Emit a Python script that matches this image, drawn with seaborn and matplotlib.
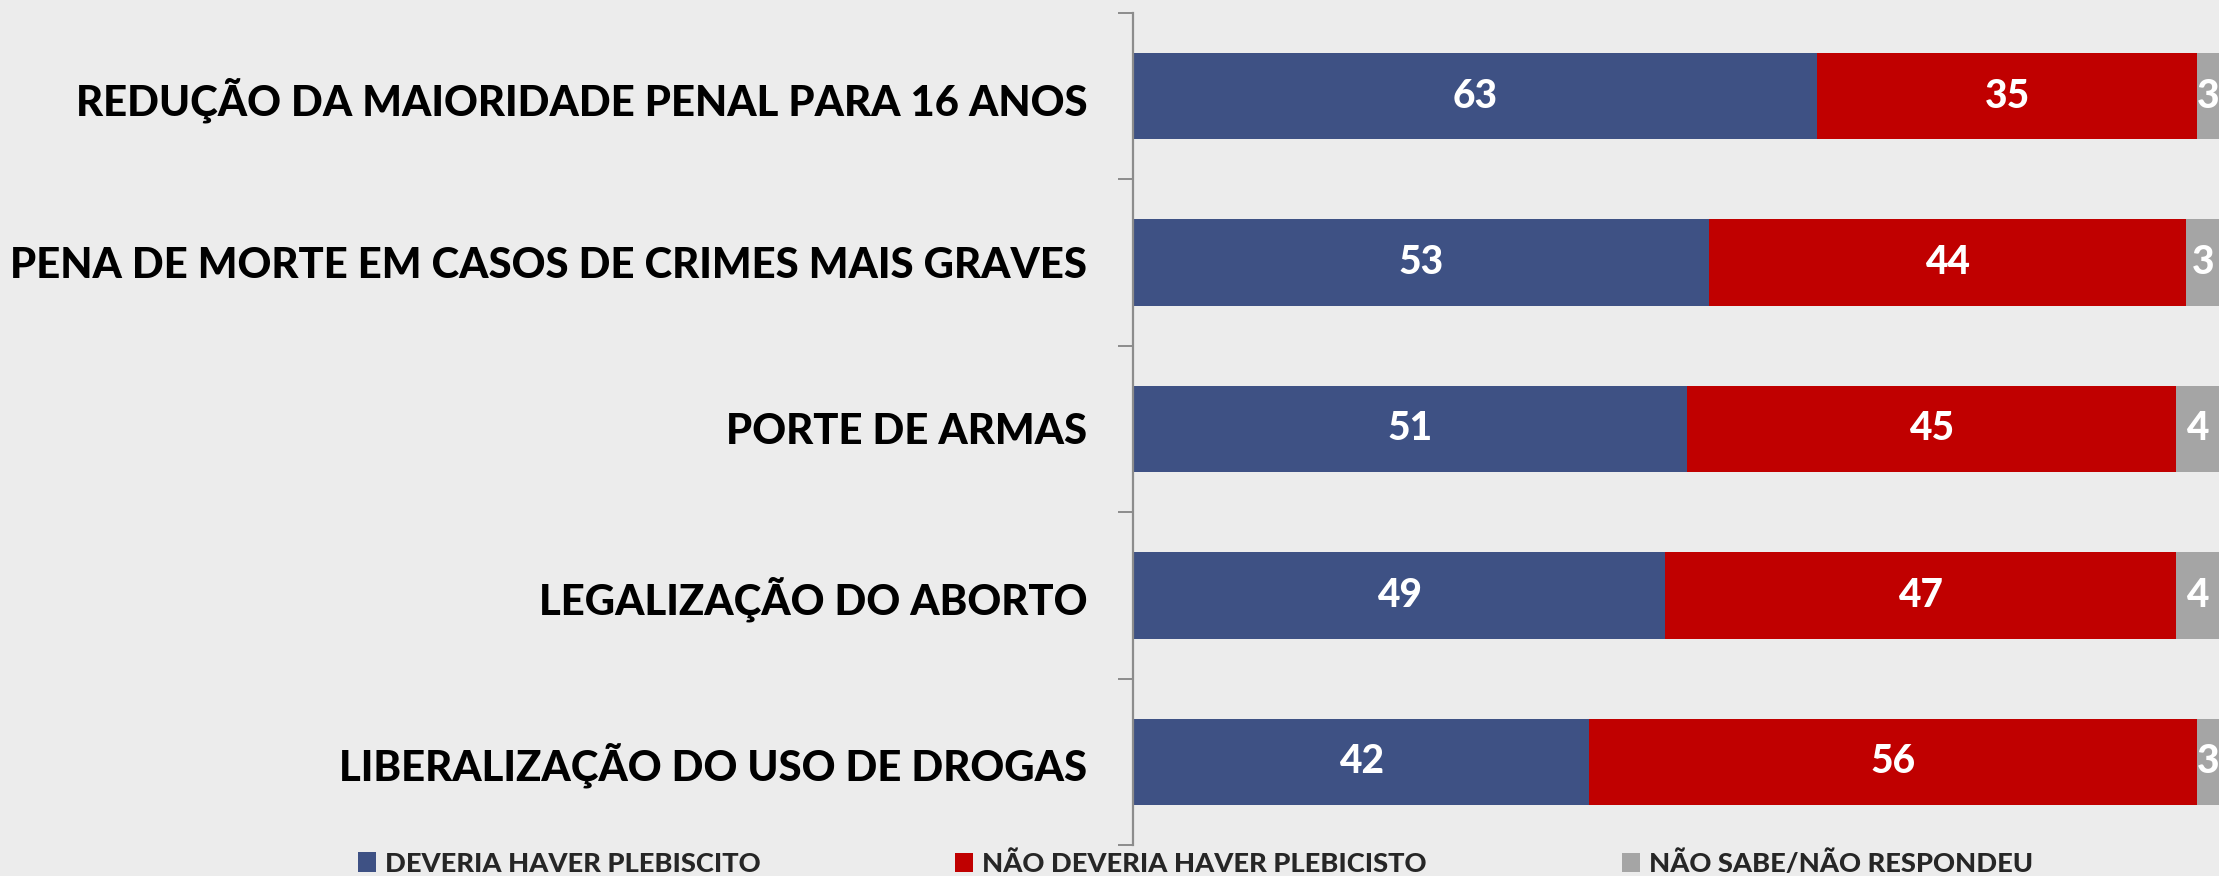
import matplotlib
matplotlib.use("Agg")
import matplotlib.pyplot as plt
from matplotlib.patches import Patch
from matplotlib.ticker import FixedLocator
from matplotlib import font_manager
import seaborn as sns
import pandas as pd
import numpy as np

# Survey results (percent)
categories = [
    "REDUÇÃO DA MAIORIDADE PENAL PARA 16 ANOS",
    "PENA DE MORTE EM CASOS DE CRIMES MAIS GRAVES",
    "PORTE DE ARMAS",
    "LEGALIZAÇÃO DO ABORTO",
    "LIBERALIZAÇÃO DO USO DE DROGAS",
]
deveria = [63, 53, 51, 49, 42]
nao_deveria = [35, 44, 45, 47, 56]
nao_sabe = [3, 3, 4, 4, 3]
series_names = ["DEVERIA HAVER PLEBISCITO", "NÃO DEVERIA HAVER PLEBICISTO", "NÃO SABE/NÃO RESPONDEU"]
colors = ["#3E5184", "#C00000", "#A5A5A5"]
BG = "#ECECEC"

sns.set_theme(style="white")
plt.rcParams["font.family"] = ["Lato", "DejaVu Sans"]
WEIGHT = 900

lato = sorted({(f.name, f.weight, f.style) for f in font_manager.fontManager.ttflist if "Lato" in f.name or "Open Sans" in f.name})
print(lato)

df = pd.DataFrame({"categoria": categories, "s1": deveria, "s2": nao_deveria, "s3": nao_sabe})
df["c1"] = df["s1"]
df["c2"] = df["s1"] + df["s2"]
df["c3"] = df["s1"] + df["s2"] + df["s3"]

W, H = 2219, 876
fig = plt.figure(figsize=(W / 100, H / 100), dpi=100, facecolor=BG)
ax = fig.add_axes([1133 / W, 1 - 845 / H, 1 - 1133 / W, (845 - 13) / H])
ax.set_facecolor(BG)

# Stacked bars: draw cumulative totals from the largest down so each layer shows its segment
for col, color in zip(["c3", "c2", "c1"], colors[::-1]):
    sns.barplot(data=df, x=col, y="categoria", orient="h", color=color,
                width=0.52, saturation=1, linewidth=0, ax=ax, order=categories)

xmax = 100
ax.set_xlim(0, xmax)
ax.set_ylim(len(categories) - 0.5, -0.5)

# Value labels centred in the visible part of each segment
for i in range(len(categories)):
    left = 0
    for vals in (deveria, nao_deveria, nao_sabe):
        v = vals[i]
        right = min(left + v, xmax)
        ax.text((left + right) / 2, i, f"{v}", ha="center", va="center",
                color="white", fontsize=28, fontweight=WEIGHT)
        left += v

ax.set_xlabel("")
ax.set_ylabel("")
ax.xaxis.set_visible(False)
for s in ["top", "right", "bottom"]:
    ax.spines[s].set_visible(False)
ax.spines["left"].set_color("#8C8C8C")
ax.spines["left"].set_linewidth(1.6)

ax.set_yticks(range(len(categories)))
ax.set_yticklabels(categories, fontsize=30.2, fontweight=WEIGHT, color="black")
ax.tick_params(axis="y", which="major", left=True, length=0, pad=33)
ax.yaxis.set_minor_locator(FixedLocator(np.arange(-0.5, len(categories), 1.0)))
ax.tick_params(axis="y", which="minor", left=True, length=10.8, width=1.4,
               color="#8C8C8C", direction="out")

# Legend entries placed individually along the bottom edge
legend_x = [358, 955, 1622]
for name, color, x in zip(series_names, colors, legend_x):
    leg = fig.legend(handles=[Patch(facecolor=color, edgecolor="none", label=name)],
                     loc="center left", bbox_to_anchor=(x / W, 1 - 863.5 / H),
                     frameon=False, fontsize=19.6, handlelength=0.67, handleheight=0.7,
                     handletextpad=0.33, borderpad=0, borderaxespad=0)
    for t in leg.get_texts():
        t.set_fontweight(WEIGHT)

fig.savefig("out.png", dpi=100, facecolor=BG)
